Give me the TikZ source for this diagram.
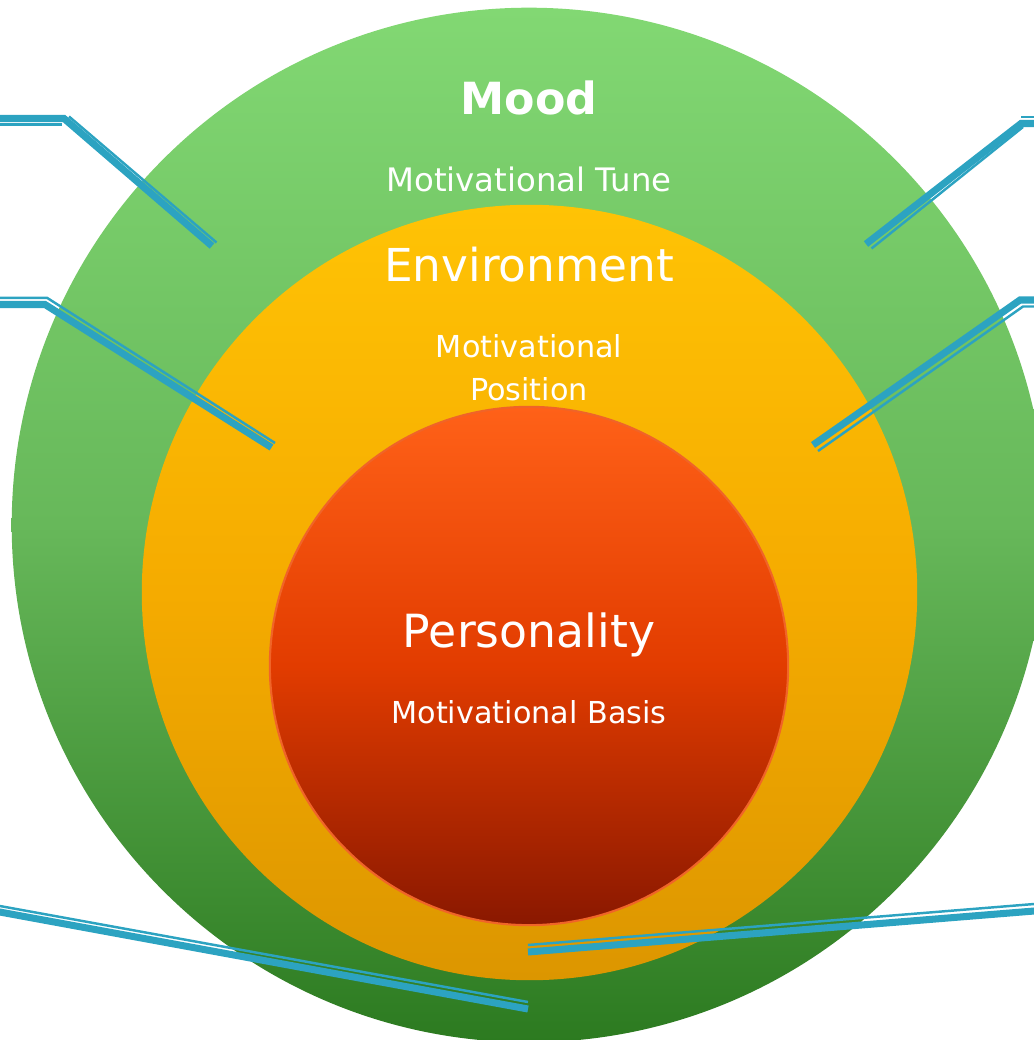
\documentclass[tikz,border=0pt]{standalone}
\usepackage{fontspec}
\setmainfont{DejaVu Sans}
\usepackage{tikz}

\definecolor{leadblue}{RGB}{44,163,193}
\definecolor{moodtop}{RGB}{130,216,115}
\definecolor{moodmid}{RGB}{103,184,90}
\definecolor{moodbot}{RGB}{44,122,32}
\definecolor{envtop}{RGB}{255,195,5}
\definecolor{envmid}{RGB}{245,171,0}
\definecolor{envbot}{RGB}{220,150,0}
\definecolor{perstop}{RGB}{255,97,24}
\definecolor{persmid}{RGB}{226,60,0}
\definecolor{persbot}{RGB}{138,24,0}
\definecolor{persline}{RGB}{240,100,40}

\begin{document}
\begin{tikzpicture}[x=0.01cm, y=-0.01cm,
		lead/.style={draw=leadblue, line width=2pt},
		leadthin/.style={draw=leadblue, line width=0.7pt},
		ringlabel/.style={text=white, anchor=base, align=center}]
		\useasboundingbox (0,0) rectangle (1034,1040);
		% the three rings
		\node[circle, inner sep=0pt, minimum size=10.34cm, top color=moodtop, bottom color=moodbot, middle color=moodmid] (moodring) at (529,525) {};
		\node[circle, inner sep=0pt, minimum size=7.75cm, top color=envtop, bottom color=envbot, middle color=envmid] (envring) at (529.5,592.5) {};
		\node[circle, inner sep=0pt, minimum size=5.18cm, draw=persline, line width=0.6pt, top color=perstop, bottom color=persbot, middle color=persmid] (persdisk) at (529,666) {};
		% leader ends
		\coordinate (tla) at ( -10 , 118.5 );
		\coordinate (tlb) at ( 64 , 118.5 );
		\coordinate (tlc) at ( 212 , 246 );
		\coordinate (tld) at ( -10 , 124.5 );
		\coordinate (tle) at ( 62 , 124.5 );
		\coordinate (tlf) at ( 69 , 116.5 );
		\coordinate (tlg) at ( 216.5 , 242.5 );
		\coordinate (tra) at ( 866 , 244 );
		\coordinate (trb) at ( 1021 , 123.5 );
		\coordinate (trc) at ( 1044 , 123.5 );
		\coordinate (trd) at ( 871.5 , 248.5 );
		\coordinate (tre) at ( 1023 , 127 );
		\coordinate (trf) at ( 1021 , 117 );
		\coordinate (trg) at ( 1044 , 117 );
		\coordinate (mla) at ( -10 , 304.5 );
		\coordinate (mlb) at ( 45 , 304.5 );
		\coordinate (mlc) at ( 271.5 , 447.5 );
		\coordinate (mld) at ( -10 , 297.8 );
		\coordinate (mle) at ( 47 , 297.8 );
		\coordinate (mlf) at ( 275 , 443 );
		\coordinate (mra) at ( 813 , 445 );
		\coordinate (mrb) at ( 1020 , 300 );
		\coordinate (mrc) at ( 1044 , 300 );
		\coordinate (mrd) at ( 818 , 451 );
		\coordinate (mre) at ( 1023 , 306.5 );
		\coordinate (mrf) at ( 1044 , 306.5 );
		\coordinate (bla) at ( -10 , 910.2 );
		\coordinate (blb) at ( 528 , 1009 );
		\coordinate (blc) at ( -10 , 904.2 );
		\coordinate (bld) at ( 528 , 1002 );
		\coordinate (bra) at ( 528 , 952 );
		\coordinate (brb) at ( 1044 , 910.2 );
		\coordinate (brc) at ( 528 , 945 );
		\coordinate (brd) at ( 1044 , 903.2 );
		% leaders
		\draw[lead] (tla)--(tlb)--(tlc);
		\draw[leadthin] (tld)--(tle);
		\draw[leadthin] (tlf)--(tlg);
		\draw[lead] (tra)--(trb)--(trc);
		\draw[leadthin] (trd)--(tre);
		\draw[leadthin] (trf)--(trg);
		\draw[lead] (mla)--(mlb)--(mlc);
		\draw[leadthin] (mld)--(mle)--(mlf);
		\draw[lead] (mra)--(mrb)--(mrc);
		\draw[leadthin] (mrd)--(mre)--(mrf);
		\draw[lead] (bla)--(blb);
		\draw[leadthin] (blc)--(bld);
		\draw[lead] (bra)--(brb);
		\draw[leadthin] (brc)--(brd);
		% labels
		\node[ringlabel, font=\fontsize{12.6pt}{15pt}\selectfont\bfseries] (moodname) at (529,115) {Mood};
		\node[ringlabel, font=\fontsize{9.2pt}{11pt}\selectfont] (moodsub) at (529,191.7) {Motivational Tune};
		\node[ringlabel, font=\fontsize{12.9pt}{15pt}\selectfont] (envname) at (529,281.7) {Environment};
		\node[ringlabel, font=\fontsize{8.6pt}{11.95pt}\selectfont] (envsub) at (529,400) {Motivational\\Position};
		\node[ringlabel, font=\fontsize{13pt}{15pt}\selectfont] (persname) at (529,647) {Personality};
		\node[ringlabel, font=\fontsize{8.6pt}{11pt}\selectfont] (perssub) at (529,723) {Motivational Basis};
		%\draw (529,525) circle (3pt);
	\end{tikzpicture}
\end{document}
